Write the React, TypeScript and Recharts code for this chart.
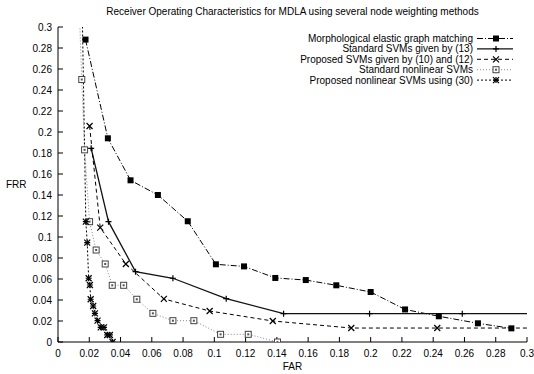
import { LineChart, Line, XAxis, YAxis, Legend } from "recharts";

// tick values (both axes use 0..0.3 in steps of 0.02)
const farTicks = [0, 0.02, 0.04, 0.06, 0.08, 0.1, 0.12, 0.14, 0.16, 0.18, 0.2, 0.22, 0.24, 0.26, 0.28, 0.3];
const frrTicks = [0, 0.02, 0.04, 0.06, 0.08, 0.1, 0.12, 0.14, 0.16, 0.18, 0.2, 0.22, 0.24, 0.26, 0.28, 0.3];

// Morphological elastic graph matching
const morphFar = [0.0176, 0.0319, 0.0464, 0.0639, 0.083, 0.101, 0.119, 0.139, 0.1585, 0.178, 0.2, 0.222, 0.2436, 0.2686, 0.29];
const morphFrr = [0.288, 0.194, 0.154, 0.14, 0.115, 0.074, 0.072, 0.061, 0.059, 0.054, 0.0476, 0.031, 0.0245, 0.0178, 0.013];

// Standard SVMs given by (13)  (last point runs off the right edge)
const stdFar = [0.0212, 0.0323, 0.0496, 0.0735, 0.1076, 0.1443, 0.1993, 0.2586, 0.35];
const stdFrr = [0.1845, 0.1146, 0.067, 0.0607, 0.0413, 0.027, 0.027, 0.027, 0.027];

// Proposed SVMs given by (10) and (12)
const propFar = [0.0202, 0.027, 0.0434, 0.0677, 0.097, 0.1374, 0.1876, 0.2426, 0.35];
const propFrr = [0.2057, 0.109, 0.0743, 0.041, 0.0295, 0.02, 0.0133, 0.0133, 0.0133];

// Standard nonlinear SVMs (first point is above the top edge)
const nlFar = [0.0128, 0.0152, 0.017, 0.0202, 0.0244, 0.0302, 0.0347, 0.042, 0.0504, 0.0607, 0.0735, 0.0869, 0.104, 0.1217, 0.1404];
const nlFrr = [0.35, 0.25, 0.183, 0.1146, 0.0876, 0.0743, 0.054, 0.054, 0.0407, 0.0273, 0.0203, 0.0203, 0.0073, 0.0073, 0];

// Proposed nonlinear SVMs using (30)
const pnlFar = [0.0151, 0.0178, 0.0187, 0.0196, 0.0204, 0.0209, 0.0225, 0.0236, 0.0253, 0.0273, 0.0294, 0.0315, 0.0332, 0.0349];
const pnlFrr = [0.35, 0.1146, 0.0946, 0.0607, 0.0543, 0.0407, 0.0343, 0.0273, 0.0203, 0.014, 0.014, 0.0067, 0.0067, 0];

const zip = (xs: number[], ys: number[]) => xs.map((x, i) => ({ far: x, frr: ys[i] }));

type Kind = "fsquare" | "plus" | "cross" | "osquare" | "star";

const series = [
  { name: "Morphological elastic graph matching", data: zip(morphFar, morphFrr), color: "#000", dash: "6 2 1 2", width: 1, kind: "fsquare" as Kind },
  { name: "Standard SVMs given by (13)", data: zip(stdFar, stdFrr), color: "#111", dash: undefined, width: 1.3, kind: "plus" as Kind },
  { name: "Proposed SVMs given by (10) and (12)", data: zip(propFar, propFrr), color: "#000", dash: "4 3", width: 1, kind: "cross" as Kind },
  { name: "Standard nonlinear SVMs", data: zip(nlFar, nlFrr), color: "#888", dash: "1 2", width: 1, kind: "osquare" as Kind },
  { name: "Proposed nonlinear SVMs using (30)", data: zip(pnlFar, pnlFrr), color: "#000", dash: "2 2", width: 1, kind: "star" as Kind },
];

function Marker({ kind, cx, cy }: { kind: Kind; cx: number; cy: number }) {
  const s = 3;
  if (kind === "fsquare") return <rect x={cx - s} y={cy - s} width={2 * s} height={2 * s} fill="#000" />;
  if (kind === "osquare")
    return (
      <g>
        <rect x={cx - s} y={cy - s} width={2 * s} height={2 * s} fill="#fff" stroke="#444" strokeWidth={1} />
        <rect x={cx - 1} y={cy - 1} width={2} height={2} fill="#555" />
      </g>
    );
  const plus = <path d={`M${cx - s},${cy}H${cx + s}M${cx},${cy - s}V${cy + s}`} stroke="#000" strokeWidth={1.2} />;
  const cross = <path d={`M${cx - s},${cy - s}L${cx + s},${cy + s}M${cx - s},${cy + s}L${cx + s},${cy - s}`} stroke="#000" strokeWidth={1.2} />;
  if (kind === "plus") return plus;
  if (kind === "cross") return cross;
  return (
    <g>
      {plus}
      {cross}
    </g>
  );
}

const makeDot = (kind: Kind) => (props: any) => {
  const { cx, cy, payload, index } = props;
  if (payload.far > 0.3 || payload.frr > 0.3 || cx == null) return <g key={index} />;
  return (
    <g key={index}>
      <Marker kind={kind} cx={cx} cy={cy} />
    </g>
  );
};

const fmt = (v: number) => String(parseFloat(v.toFixed(2)));

const renderLegend = () => (
  <svg width={534} height={60} style={{ display: "block" }}>
    {series.map((s, i) => {
      const y = 6.5 + i * 10.4;
      return (
        <g key={s.name}>
          <text x={473} y={y} textAnchor="end" dominantBaseline="central" fontSize={10} fill="#000">
            {s.name}
          </text>
          <line x1={477} x2={513} y1={y} y2={y} stroke={s.color} strokeWidth={s.width} strokeDasharray={s.dash} />
          <Marker kind={s.kind} cx={496} cy={y} />
        </g>
      );
    })}
  </svg>
);

export default function App() {
  const font = '"Liberation Sans", Arial, sans-serif';
  return (
    <div style={{ position: "absolute", left: 0, top: 0, width: 534, height: 374, background: "#fff", fontFamily: font }}>
      <div style={{ position: "absolute", left: 58, top: 6, width: 469, textAlign: "center", fontSize: 10, lineHeight: "12px" }}>
        Receiver Operating Characteristics for MDLA using several node weighting methods
      </div>
      <LineChart width={534} height={374} margin={{ top: 27, right: 7, left: 0, bottom: 0 }} style={{ fontFamily: font }}>
        <XAxis
          type="number"
          dataKey="far"
          domain={[0, 0.3]}
          ticks={farTicks}
          allowDataOverflow
          tickFormatter={fmt}
          height={32}
          stroke="#000"
          tickSize={-5}
          tickMargin={13}
          tick={{ fontSize: 10, fill: "#000" }}
          label={{ value: "FAR", position: "insideBottom", offset: 4, fontSize: 10, fill: "#000" }}
        />
        <XAxis xAxisId="top" orientation="top" type="number" dataKey="far" domain={[0, 0.3]} ticks={farTicks} allowDataOverflow height={0} stroke="#000" tickSize={-5} tick={false} />
        <YAxis
          type="number"
          dataKey="frr"
          domain={[0, 0.3]}
          ticks={frrTicks}
          allowDataOverflow
          tickFormatter={fmt}
          width={58}
          stroke="#000"
          tickSize={-5}
          tickMargin={11}
          tick={{ fontSize: 10, fill: "#000" }}
          label={{ value: "FRR", position: "insideLeft", offset: 6, angle: 0, fontSize: 10, fill: "#000" }}
        />
        <YAxis yAxisId="right" orientation="right" type="number" dataKey="frr" domain={[0, 0.3]} ticks={frrTicks} allowDataOverflow width={0} stroke="#000" tickSize={-5} tick={false} />
        <Legend
          content={renderLegend}
          layout="vertical"
          align="center"
          verticalAlign="middle"
          wrapperStyle={{ position: "absolute", left: 0, top: 32, width: 534, height: 60 }}
        />
        {series.map((s) => (
          <Line
            key={s.name}
            name={s.name}
            data={s.data}
            dataKey="frr"
            type="linear"
            stroke={s.color}
            strokeWidth={s.width}
            strokeDasharray={s.dash}
            dot={makeDot(s.kind)}
            activeDot={false}
            isAnimationActive={false}
          />
        ))}
      </LineChart>
    </div>
  );
}
